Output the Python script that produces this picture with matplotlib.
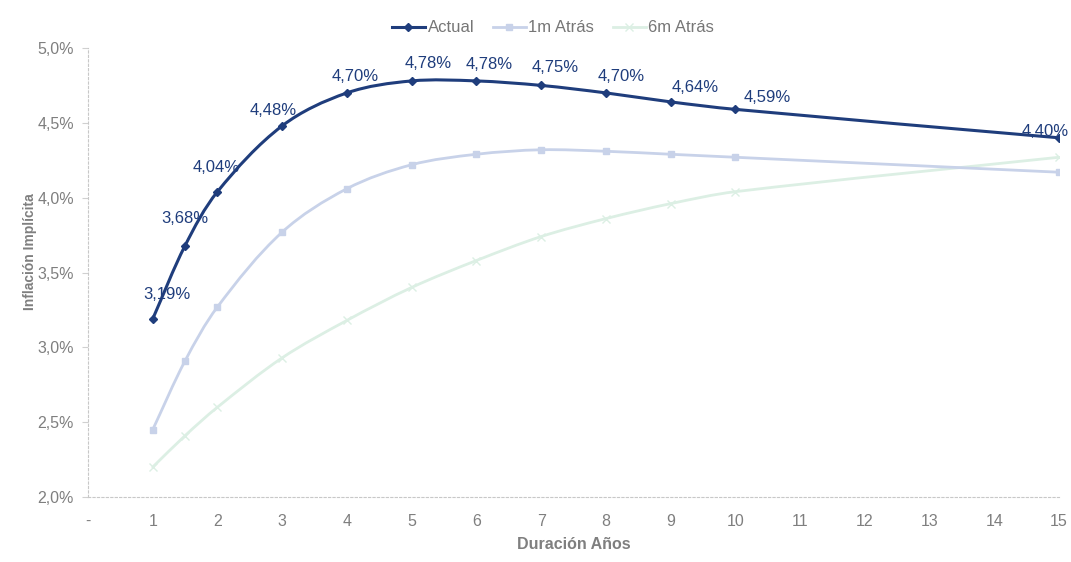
#curva de inflacion implicita: actual vs 1m y 6m atras

import matplotlib
matplotlib.use("Agg")
import numpy as np
import matplotlib.pyplot as plt
from matplotlib.path import Path
from matplotlib.patches import PathPatch
from matplotlib.lines import Line2D
from matplotlib.ticker import FuncFormatter

plt.rcParams['font.family'] = ['Liberation Sans', 'DejaVu Sans']

#datos
plazos = [1, 1.5, 2, 3, 4, 5, 6, 7, 8, 9, 10, 15]
actual = [3.19, 3.68, 4.04, 4.48, 4.70, 4.78, 4.78, 4.75, 4.70, 4.64, 4.59, 4.40]
hace1m = [2.45, 2.91, 3.27, 3.77, 4.06, 4.22, 4.29, 4.32, 4.31, 4.29, 4.27, 4.17]
hace6m = [2.20, 2.41, 2.60, 2.93, 3.18, 3.40, 3.58, 3.74, 3.86, 3.96, 4.04, 4.27]

xTicks = list(range(0, 16))
yTicks = [2.0, 2.5, 3.0, 3.5, 4.0, 4.5, 5.0]

#posicion de las etiquetas (pixeles) respecto de cada punto
labelOffsets = [(14, 24), (0, 27), (-1, 24), (-9, 15), (8, 16), (17, 17),
                (13, 16), (14, 18), (15, 16), (25, 14), (32, 12), (-14, 6)]

navy = "#1F3D7C"
lightBlue = "#C8D2E9"
lightGreen = "#DCEFE4"
gray = "#7F7F7F"


def smoothPath(ax, xs, ys):
    #curva suavizada tipo Excel, calculada en pixeles para no deformar la tangente
    p = ax.transData.transform(np.column_stack([xs, ys]))
    n = len(p)
    verts = [p[0]]
    codes = [Path.MOVETO]
    tang = []
    for i in range(n):
        d = p[min(i + 1, n - 1)] - p[max(i - 1, 0)]
        tang.append(d / np.hypot(d[0], d[1]))
    for i in range(n - 1):
        seg = np.hypot(*(p[i + 1] - p[i])) / 3.0
        verts += [p[i] + tang[i] * seg, p[i + 1] - tang[i + 1] * seg, p[i + 1]]
        codes += [Path.CURVE4, Path.CURVE4, Path.CURVE4]
    verts = ax.transData.inverted().transform(np.array(verts))
    return Path(verts, codes)


def drawSeries(ax, ys, color, lw, marker, ms, z):
    ax.add_patch(PathPatch(smoothPath(ax, plazos, ys), facecolor="none", edgecolor=color,
                           lw=lw, zorder=z, capstyle="round", joinstyle="round"))
    ax.plot(plazos, ys, linestyle="none", marker=marker, markersize=ms,
            color=color, markeredgecolor=color, markeredgewidth=1.0, zorder=z + 0.5)


def createGraph():

    fig = plt.figure(figsize=(10.71, 5.62), dpi=100)
    ax = fig.add_axes([88 / 1071, 1 - 497 / 562, (1059 - 88) / 1071, (497 - 48) / 562])
    ax.set_xlim(0, 15)
    ax.set_ylim(2.0, 5.0)

    drawSeries(ax, hace6m, lightGreen, 2.0, "x", 6, 2)
    drawSeries(ax, hace1m, lightBlue, 2.0, "s", 4, 3)
    drawSeries(ax, actual, navy, 2.2, "D", 4, 4)

    #etiquetas de datos
    for x, y, off in zip(plazos, actual, labelOffsets):
        ax.annotate("{:.2f}%".format(y).replace(".", ","), (x, y), xytext=off,
                    textcoords="offset pixels", ha="center", va="center",
                    color=navy, fontsize=12, zorder=6)

    ax.set_xticks(xTicks)
    ax.set_yticks(yTicks)
    ax.xaxis.set_major_formatter(FuncFormatter(lambda v, p: "-" if v == 0 else "{:d}".format(int(v))))
    ax.yaxis.set_major_formatter(FuncFormatter(lambda v, p: "{:.1f}%".format(v).replace(".", ",")))
    ax.tick_params(axis="x", length=0, pad=12, labelsize=11.5, labelcolor=gray)
    ax.tick_params(axis="y", length=4, width=0.8, color="#D0D0D0", pad=6, labelsize=11.5, labelcolor=gray)

    for s in ["top", "right"]:
        ax.spines[s].set_visible(False)
    for s in ["left", "bottom"]:
        ax.spines[s].set_color("#C8C8C8")
        ax.spines[s].set_linestyle((0, (2, 2)))
        ax.spines[s].set_linewidth(0.8)

    ax.set_xlabel("Duración Años", fontsize=11.5, fontweight="bold", color=gray, labelpad=6)
    fig.text(30 / 1071, 1 - 252 / 562, "Inflación Implícita", rotation=90, ha="center", va="center",
             fontsize=10, fontweight="bold", color=gray)

    handles = [Line2D([], [], color=navy, lw=2.2, marker="D", markersize=4),
               Line2D([], [], color=lightBlue, lw=2.0, marker="s", markersize=4),
               Line2D([], [], color=lightGreen, lw=2.0, marker="x", markersize=6)]
    leg = fig.legend(handles, ["Actual", "1m Atrás", "6m Atrás"], loc="center",
                     bbox_to_anchor=(553 / 1071, 1 - 28 / 562), ncol=3, frameon=False,
                     fontsize=12, handlelength=2.0, handletextpad=0.15, columnspacing=1.1)
    for t in leg.get_texts():
        t.set_color("#767676")

    fig.savefig("out.png", dpi=100)


createGraph()
